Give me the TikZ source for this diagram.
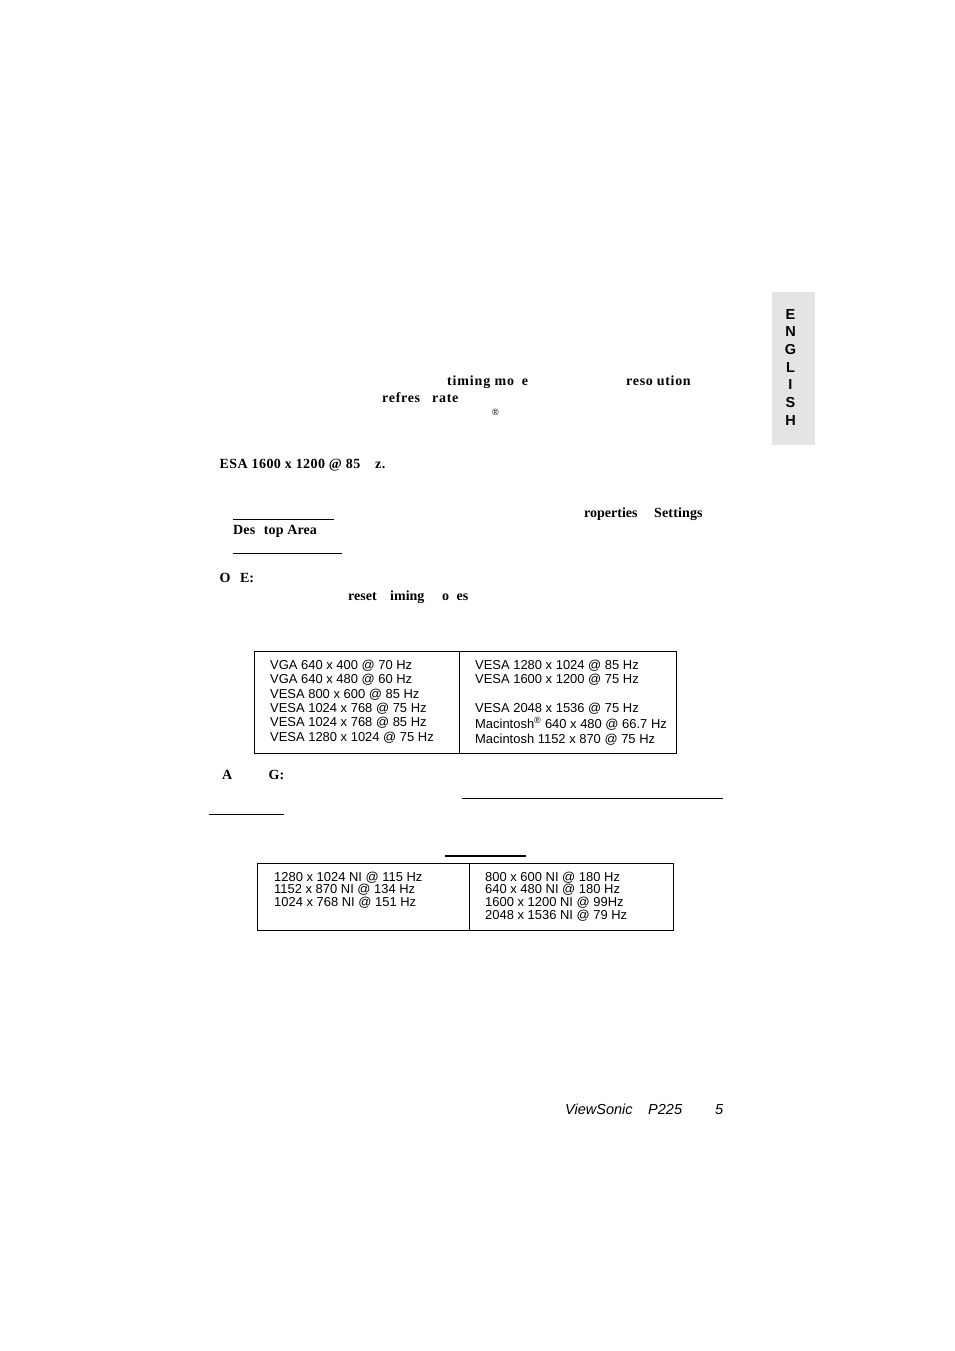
\documentclass[tikz,border=0pt]{standalone}
\usepackage{fontspec}
\setmainfont{Liberation Serif}
\setsansfont{Liberation Sans}
\tikzset{
    bodytext/.style={inner sep=0pt,anchor=base west,font=\fontsize{14pt}{16pt}\selectfont\bfseries},
    spacedtext/.style={inner sep=0pt,anchor=base west,font=\fontsize{14pt}{16pt}\selectfont\bfseries\addfontfeature{LetterSpace=#1}},
    celltext/.style={inner sep=0pt,anchor=base west,font=\fontsize{12.95pt}{15pt}\selectfont\sffamily},
    footertext/.style={inner sep=0pt,anchor=base west,font=\fontsize{14.5pt}{16pt}\selectfont\sffamily\itshape},
    tabtext/.style={inner sep=0pt,anchor=base,font=\fontsize{14.5pt}{16pt}\selectfont\sffamily\bfseries},
    rulethin/.style={line width=1pt},
    rulethick/.style={line width=2pt}
}
\definecolor{tabgray}{HTML}{E4E4E4}
\begin{document}
\begin{tikzpicture}[x=1pt,y=-1pt]
                \useasboundingbox [fill=white] (0,0) rectangle (954,1351);
                \fill [tabgray] (772,292) rectangle (815,445);
                \node [tabtext] (tabE) at (790.5,319) {E};
                \node [tabtext] (tabN) at (790.5,336) {N};
                \node [tabtext] (tabG) at (790.5,354) {G};
                \node [tabtext] (tabL) at (790.5,372) {L};
                \node [tabtext] (tabI) at (790.5,389) {I};
                \node [tabtext] (tabS) at (790.5,407) {S};
                \node [tabtext] (tabH) at (790.5,425) {H};
                \node [spacedtext=6] (timing) at (447,385) {timing mo\phantom{d}e};
                \node [spacedtext=5] (resolution) at (626,385) {reso\phantom{l}ution};
                \node [spacedtext=5] (refresh) at (382,402) {refres\phantom{h} rate};
                \node [inner sep=0pt,anchor=base west,font=\fontsize{9pt}{10pt}\selectfont\sffamily] (regmark) at (492,415) {®};
                \node [spacedtext=3] (esa) at (219.5,468) {ESA 1600 x 1200 @ 85\phantom{ H}z.};
                \node [bodytext] (properties) at (584,517) {roperties};
                \node [spacedtext=1] (settings) at (654,517) {Settings};
                \node [spacedtext=1] (desktop) at (233,534) {Des\hspace{5pt} top Area};
                \node [bodytext] (note) at (219.5,582) {O\hspace{6pt} E:};
                \node [bodytext] (preset) at (348,600) {reset};
                \node [bodytext] (iming) at (390,600) {iming};
                \node [bodytext] (modes) at (442,600) {o\hspace{4pt} es};
                \node [bodytext] (warnA) at (222,779) {A};
                \node [bodytext] (warnG) at (268.5,779) {G:};
                \draw [rulethin] (233,519.5) -- (334,519.5);
                \draw [rulethin] (233,553.5) -- (342,553.5);
                \draw [rulethin] (462,798.5) -- (723,798.5);
                \draw [rulethin] (209,814.5) -- (284,814.5);
                \draw [rulethick] (445,856) -- (526,856);
                % first table
                \draw [rulethin] (254.5,651.5) rectangle (676.5,753.5);
                \draw [rulethin] (459.5,651.5) -- (459.5,753.5);
                \node [celltext] (vgaA) at (270,669) {VGA 640 x 400 @ 70 Hz};
                \node [celltext] (vgaB) at (270,683) {VGA 640 x 480 @ 60 Hz};
                \node [celltext] (vesaA) at (270,698) {VESA 800 x 600 @ 85 Hz};
                \node [celltext] (vesaB) at (270,712) {VESA 1024 x 768 @ 75 Hz};
                \node [celltext] (vesaC) at (270,726) {VESA 1024 x 768 @ 85 Hz};
                \node [celltext] (vesaD) at (270,741) {VESA 1280 x 1024 @ 75 Hz};
                \node [celltext] (vesaE) at (475,669) {VESA 1280 x 1024 @ 85 Hz};
                \node [celltext] (vesaF) at (475,683) {VESA 1600 x 1200 @ 75 Hz};
                \node [celltext] (vesaG) at (475,712) {VESA 2048 x 1536 @ 75 Hz};
                \node [celltext] (macA) at (475,728) {Macintosh\textsuperscript{®} 640 x 480 @ 66.7 Hz};
                \node [celltext] (macB) at (475,743) {Macintosh 1152 x 870 @ 75 Hz};
                % second table
                \draw [rulethin] (257.5,863.5) rectangle (673.5,930.5);
                \draw [rulethin] (469.5,863.5) -- (469.5,930.5);
                \node [celltext] (niA) at (274,881) {1280 x 1024 NI @ 115 Hz};
                \node [celltext] (niB) at (274,893) {1152 x 870 NI @ 134 Hz};
                \node [celltext] (niC) at (274,906) {1024 x 768 NI @ 151 Hz};
                \node [celltext] (niD) at (485,881) {800 x 600 NI @ 180 Hz};
                \node [celltext] (niE) at (485,893) {640 x 480 NI @ 180 Hz};
                \node [celltext] (niF) at (485,906) {1600 x 1200 NI @ 99Hz};
                \node [celltext] (niG) at (485,919) {2048 x 1536 NI @ 79 Hz};
                % footer
                \node [footertext] (brand) at (565,1114) {ViewSonic};
                \node [footertext] (model) at (648,1114) {P225};
                \node [footertext] (pagenum) at (715,1114) {5};
            \end{tikzpicture}
\end{document}
